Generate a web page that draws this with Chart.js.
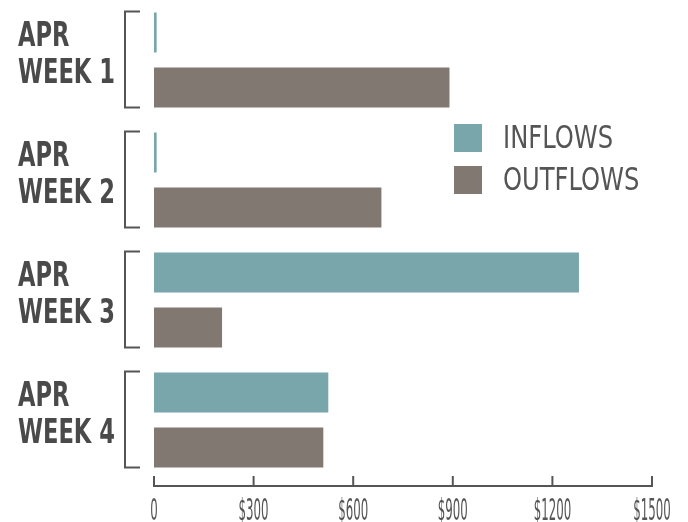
<!DOCTYPE html>
<html>
<head>
<meta charset="utf-8">
<script src="https://cdn.jsdelivr.net/npm/chart.js@4.4.1/dist/chart.umd.min.js"></script>
<style>
  html, body { margin: 0; padding: 0; background: #fff; }
  #wrap { width: 688px; height: 522px; }
</style>
</head>
<body>
<div id="wrap"><canvas id="myChart"></canvas></div>
<script>
const weeks = [['APR', 'WEEK 1'], ['APR', 'WEEK 2'], ['APR', 'WEEK 3'], ['APR', 'WEEK 4']];
const inflows = [8, 8, 1280, 525];
const outflows = [890, 685, 205, 510];
const xTicks = [0, 300, 600, 900, 1200, 1500];
const xTickLabels = ['0', '$300', '$600', '$900', '$1200', '$1500'];

const FONT = '"Liberation Sans Narrow", "DejaVu Sans Condensed", "Roboto", sans-serif';
const INK = '#555555';

// squeeze factor so that `sample` comes out `width` px wide in this font
function squeezeFor(c, font, sample, width) {
  c.save();
  c.font = font;
  const w = c.measureText(sample).width;
  c.restore();
  return width / w;
}

function squeezed(c, s, x, y, font, sx, align) {
  c.save();
  c.font = font;
  c.translate(x, y);
  c.scale(sx, 1);
  c.textAlign = align;
  c.textBaseline = 'alphabetic';
  c.fillText(s, 0, 0);
  c.restore();
}

const decor = {
  id: 'decor',
  afterDraw(chart) {
    const c = chart.ctx;
    const xs = chart.scales.x;
    const ys = chart.scales.y;
    const inMeta = chart.getDatasetMeta(0);
    const outMeta = chart.getDatasetMeta(1);

    // category labels + brackets
    const catFont = 'bold 33px ' + FONT;
    const catSx = squeezeFor(c, catFont, 'WEEK 1', 97);
    c.fillStyle = '#4a4a4a';
    c.strokeStyle = INK;
    c.lineWidth = 2;
    weeks.forEach((lab, i) => {
      const cy = ys.getPixelForValue(i);
      squeezed(c, lab[0], 18, cy - 14, catFont, catSx, 'left');
      squeezed(c, lab[1], 18, cy + 23, catFont, catSx, 'left');

      const a = inMeta.data[i].getProps(['y', 'height'], true);
      const b = outMeta.data[i].getProps(['y', 'height'], true);
      const top = a.y - a.height / 2 - 1;
      const bot = b.y + b.height / 2;
      c.beginPath();
      c.moveTo(140, top);
      c.lineTo(125, top);
      c.lineTo(125, bot);
      c.lineTo(140, bot);
      c.stroke();
    });

    // bottom axis with upward ticks
    const axisY = 486;
    c.beginPath();
    c.moveTo(xs.getPixelForValue(xTicks[0]), axisY);
    c.lineTo(xs.getPixelForValue(xTicks[xTicks.length - 1]), axisY);
    xTicks.forEach(v => {
      const px = xs.getPixelForValue(v);
      c.moveTo(px, axisY + 1);
      c.lineTo(px, axisY - 10);
    });
    c.stroke();
    const tickFont = '30px ' + FONT;
    const tickSx = squeezeFor(c, tickFont, '$300', 30);
    c.fillStyle = INK;
    xTicks.forEach((v, i) => {
      squeezed(c, xTickLabels[i], xs.getPixelForValue(v), 520, tickFont, tickSx, 'center');
    });

    // legend
    const legFont = '32px ' + FONT;
    const legSx = squeezeFor(c, legFont, 'INFLOWS', 110);
    chart.data.datasets.forEach((ds, i) => {
      const y = 124 + i * 42;
      c.fillStyle = ds.backgroundColor;
      c.fillRect(454, y, 28, 28);
      c.fillStyle = INK;
      squeezed(c, ds.label, 503, y + 24, legFont, legSx, 'left');
    });
  }
};

new Chart(document.getElementById('myChart'), {
  type: 'bar',
  data: {
    labels: weeks,
    datasets: [
      { label: 'INFLOWS', data: inflows, backgroundColor: '#79a6ab' },
      { label: 'OUTFLOWS', data: outflows, backgroundColor: '#817871' }
    ]
  },
  options: {
    indexAxis: 'y',
    responsive: true,
    maintainAspectRatio: false,
    animation: false,
    layout: { padding: { left: 154, right: 36, top: 0, bottom: 42 } },
    categoryPercentage: 0.917,
    barPercentage: 0.727,
    scales: {
      x: { display: false, min: 0, max: 1500 },
      y: { display: false }
    },
    plugins: {
      legend: { display: false },
      tooltip: { enabled: false }
    }
  },
  plugins: [decor]
});
</script>
</body>
</html>
